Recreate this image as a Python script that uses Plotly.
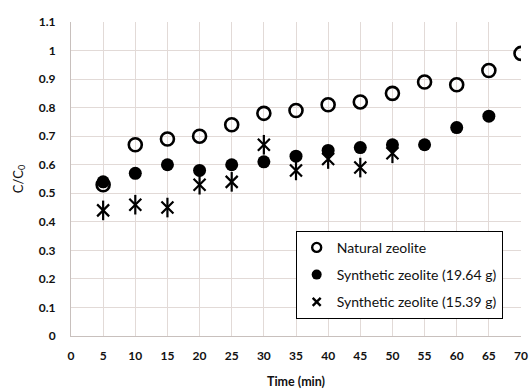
import plotly.graph_objects as go

# Contact time (min)
time_natural = [5, 10, 15, 20, 25, 30, 35, 40, 45, 50, 55, 60, 65, 70]
time_syn_1964 = [5, 10, 15, 20, 25, 30, 35, 40, 45, 50, 55, 60, 65]
time_syn_1539 = [5, 10, 15, 20, 25, 30, 35, 40, 45, 50]

# Relative concentration C/C0
c_natural = [0.53, 0.67, 0.69, 0.70, 0.74, 0.78, 0.79, 0.81, 0.82, 0.85, 0.89, 0.88, 0.93, 0.99]
c_syn_1964 = [0.54, 0.57, 0.60, 0.58, 0.60, 0.61, 0.63, 0.65, 0.66, 0.67, 0.67, 0.73, 0.77]
c_syn_1539 = [0.44, 0.46, 0.45, 0.53, 0.54, 0.67, 0.58, 0.62, 0.59, 0.64]

names = ["Natural zeolite", "Synthetic zeolite (19.64 g)", "Synthetic zeolite (15.39 g)"]

FONT = "Lato, 'Open Sans', sans-serif"
INK = "#111111"
GRID = "#e2dad7"

fig = go.Figure()

# data series
fig.add_trace(go.Scatter(
    x=time_natural, y=c_natural, mode="markers", showlegend=False,
    marker=dict(symbol="circle-open", size=13, color="black", line=dict(width=2.6, color="black")),
))
fig.add_trace(go.Scatter(
    x=time_syn_1964, y=c_syn_1964, mode="markers", showlegend=False,
    marker=dict(symbol="circle", size=13, color="black"),
))
# six-armed star: an X with a vertical stroke through it
fig.add_trace(go.Scatter(
    x=time_syn_1539, y=c_syn_1539, mode="markers", showlegend=False,
    marker=dict(symbol="x-thin-open", size=12, color="black", line=dict(width=2.2, color="black")),
))
fig.add_trace(go.Scatter(
    x=time_syn_1539, y=c_syn_1539, mode="markers", showlegend=False,
    marker=dict(symbol="line-ns-open", size=14, color="black", line=dict(width=2.2, color="black")),
))

# compact legend keys
legend_markers = [
    dict(symbol="circle-open", size=9, color="black", line=dict(width=2.4, color="black")),
    dict(symbol="circle", size=10, color="black"),
    dict(symbol="x-thin-open", size=8, color="black", line=dict(width=2.4, color="black")),
]
for i, (nm, mk) in enumerate(zip(names, legend_markers)):
    fig.add_trace(go.Scatter(
        x=[None], y=[None], mode="markers", name=nm, legendgroup=f"g{i}", marker=mk,
    ))

tickfont = dict(family=FONT, size=12, color=INK)

fig.update_layout(
    width=531, height=389,
    margin=dict(l=71, r=10, t=22, b=53),
    paper_bgcolor="white", plot_bgcolor="white",
    font=dict(family=FONT, color=INK),
    showlegend=True,
    legend=dict(
        x=0.4993, y=0.335, xanchor="left", yanchor="top",
        bgcolor="white", bordercolor="black", borderwidth=1,
        font=dict(family=FONT, size=14, color=INK),
        tracegroupgap=6, itemwidth=30,
    ),
    xaxis=dict(
        range=[0, 70], dtick=5, tick0=0, automargin=False,
        showgrid=True, gridcolor=GRID, gridwidth=1,
        showline=True, linecolor="#c8c0bd", linewidth=1,
        zeroline=False, ticks="", ticklabelstandoff=9,
        tickprefix="<b>", ticksuffix="</b>",
        tickfont=tickfont,
        title=dict(text="<b>Time (min)</b>", font=dict(family=FONT, size=12.5, color=INK), standoff=16),
    ),
    yaxis=dict(
        range=[0, 1.1], dtick=0.1, tick0=0, automargin=False,
        showgrid=True, gridcolor=GRID, gridwidth=1,
        showline=True, linecolor="#c8c0bd", linewidth=1,
        zeroline=False, ticks="", ticklabelstandoff=12,
        tickprefix="<b>", ticksuffix="</b>",
        tickfont=tickfont,
        title=dict(text="C/C<sub>0</sub>", font=dict(family=FONT, size=13, color=INK), standoff=12),
    ),
)

fig.write_html("out.html")
